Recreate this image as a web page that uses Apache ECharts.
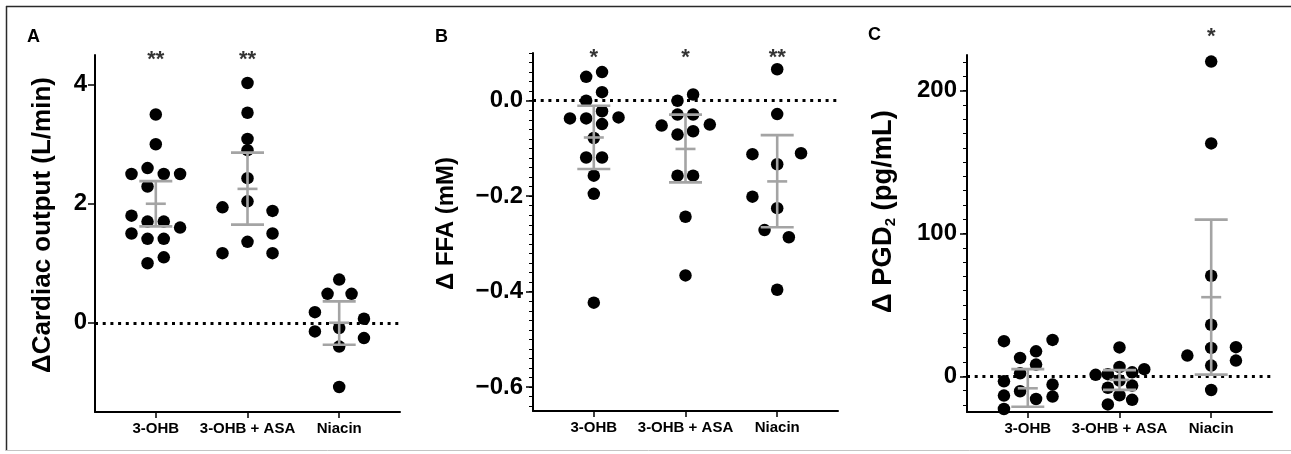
<!DOCTYPE html>
<html>
<head>
<meta charset="utf-8">
<script src="https://cdn.jsdelivr.net/npm/echarts@6/dist/echarts.min.js"></script>
<style>
html,body{margin:0;padding:0;background:#fff;}
#chart{width:1291px;height:454px;}
</style>
</head>
<body>
<div id="chart"></div>
<script>
// ---------- categories ----------
const categories = ['3-OHB', '3-OHB + ASA', 'Niacin'];

// ---------- Panel A: ΔCardiac output (L/min) ----------
const coOHB      = [3.50, 3.00, 2.60, 2.50, 2.50, 2.50, 2.29, 1.80, 1.70, 1.70, 1.60, 1.50, 1.41, 1.41, 1.10, 1.00];
const coOHBJit   = [0, 0, -0.09, -0.265, 0.087, 0.265, -0.09, -0.265, -0.09, 0.087, 0.265, -0.265, -0.09, 0.087, 0.087, -0.09];
const coASA      = [4.03, 3.53, 3.09, 2.90, 2.43, 2.04, 1.94, 1.88, 1.50, 1.36, 1.17, 1.17];
const coASAJit   = [0, 0, 0, 0, 0, 0, -0.273, 0.273, 0.273, 0, -0.273, 0.273];
const coNia      = [0.725, 0.486, 0.486, 0.178, 0.067, -0.09, -0.146, -0.258, -0.40, -1.08];
const coNiaJit   = [0, -0.127, 0.135, -0.265, 0.27, 0, -0.265, 0.27, 0, 0];
const coMean     = [2.00, 2.25, 0.00];
const coLow      = [1.62, 1.65, -0.37];
const coHigh     = [2.38, 2.86, 0.36];
const coStars    = ['**', '**', ''];
const coTicks    = [0, 2, 4];

// ---------- Panel B: Δ FFA (mM) ----------
const ffaOHB     = [0.06, 0.05, 0.018, 0.0, -0.022, -0.037, -0.037, -0.035, -0.049, -0.078, -0.119, -0.119, -0.157, -0.195, -0.423];
const ffaOHBJit  = [0.09, -0.083, 0.09, -0.083, 0.09, -0.26, -0.083, 0.27, 0.09, 0, -0.083, 0.09, 0, 0, 0];
const ffaASA     = [0.013, 0.0, -0.029, -0.029, -0.052, -0.050, -0.071, -0.064, -0.157, -0.157, -0.243, -0.366];
const ffaASAJit  = [0.083, -0.087, -0.087, 0.083, -0.26, 0.265, -0.087, 0.083, -0.087, 0.083, 0, 0];
const ffaNia     = [0.066, -0.028, -0.112, -0.110, -0.133, -0.201, -0.225, -0.271, -0.286, -0.396];
const ffaNiaJit  = [0, 0, -0.27, 0.26, 0, -0.27, 0, -0.138, 0.127, 0];
const ffaMean    = [-0.077, -0.101, -0.169];
const ffaLow     = [-0.143, -0.171, -0.265];
const ffaHigh    = [-0.0105, -0.029, -0.072];
const ffaStars   = ['*', '*', '**'];
const ffaTicks   = [-0.6, -0.4, -0.2, 0];
const ffaMinor   = [];
for (let k = -32; k <= 5; k++) ffaMinor.push(k / 50);

// ---------- Panel C: Δ PGD2 (pg/mL) ----------
const pgOHB      = [24.6, 25.5, 12.9, 17.5, 8.2, 2.1, -3.5, -5.8, -10.5, -13.5, -14.2, -15.9, -22.9];
const pgOHBJit   = [-0.26, 0.27, -0.084, 0.09, 0.09, -0.084, -0.26, 0.27, -0.084, -0.26, 0.27, 0.09, -0.26];
const pgASA      = [20.2, 6.5, 1.0, 1.5, 2.8, 5.0, -3.0, -8.0, -6.5, -13.3, -16.5, -19.7];
const pgASAJit   = [0, 0, -0.26, -0.127, 0.138, 0.27, 0, -0.127, 0.138, 0, 0.138, -0.127];
const pgNia      = [220.4, 163.1, 70.4, 36.1, 19.9, 20.4, 14.5, 11.0, 7.5, -9.6];
const pgNiaJit   = [0, 0, 0, 0, 0, 0.27, -0.26, 0.27, 0, 0];
const pgMean     = [-8.4, -2.5, 55.4];
const pgLow      = [-21.3, -9.5, 1.2];
const pgHigh     = [5.0, 4.3, 109.7];
const pgStars    = ['', '', '*'];
const pgTicks    = [0, 100, 200];
const pgMinor    = [];
for (let k = -2; k <= 22; k++) pgMinor.push(k * 10);

// ---------- axis titles ----------
const titleA = 'ΔCardiac output (L/min)';
const titleB = 'Δ FFA (mM)';
const titleCMain = ['Δ PGD', ' (pg/mL)'];
const titleCSub = '2';

// ---------- build ----------
const FONT = "'Liberation Sans', Arial, Helvetica, sans-serif";
const GRAY = '#a4a4a4';
const SUB = 15;

const mctx = document.createElement('canvas').getContext('2d');
function textW(t, size) { mctx.font = 'bold ' + size + 'px ' + FONT; return mctx.measureText(t).width; }
function fitSize(t, len) { return len / textW(t, 100) * 100; }

const sizeA = fitSize(titleA, 296);
const sizeB = fitSize(titleB, 133);
const sizeC = (203 - textW(titleCSub, SUB)) / textW(titleCMain.join(''), 100) * 100;

const panels = [
  { grid: {left: 95, top: 55, width: 305, height: 357},
    ymin: -1.5, ymax: 4.5, ticks: coTicks, minor: null,
    fmt: v => String(v), labelMargin: 8,
    groups: [[coOHB, coOHBJit], [coASA, coASAJit], [coNia, coNiaJit]],
    mean: coMean, low: coLow, high: coHigh, stars: coStars, starY: 4.42 },
  { grid: {left: 533, top: 53, width: 305, height: 358},
    ymin: -0.65, ymax: 0.1, ticks: ffaTicks, minor: ffaMinor,
    fmt: v => (Math.abs(v) < 1e-9 ? '0.0' : '\u2212' + Math.abs(v).toFixed(1)), labelMargin: 10,
    groups: [[ffaOHB, ffaOHBJit], [ffaASA, ffaASAJit], [ffaNia, ffaNiaJit]],
    mean: ffaMean, low: ffaLow, high: ffaHigh, stars: ffaStars, starY: 0.09 },
  { grid: {left: 967, top: 55, width: 305, height: 357},
    ymin: -25, ymax: 225, ticks: pgTicks, minor: pgMinor,
    fmt: v => String(v), labelMargin: 10,
    groups: [[pgOHB, pgOHBJit], [pgASA, pgASAJit], [pgNia, pgNiaJit]],
    mean: pgMean, low: pgLow, high: pgHigh, stars: pgStars, starY: 237.8 }
];

function vtitle(text, x, y, size) {
  return {type: 'text', x: x, y: y, rotation: Math.PI / 2, z: 10,
    style: {text: text, fill: '#000', font: 'bold ' + size + 'px ' + FONT,
      textAlign: 'center', textVerticalAlign: 'middle',
      rich: {
        n: {fill: '#000', fontFamily: FONT, fontWeight: 'bold', fontSize: size, lineHeight: 30},
        s: {fill: '#000', fontFamily: FONT, fontWeight: 'bold', fontSize: SUB, lineHeight: 15, verticalAlign: 'bottom'}
      }}};
}

const option = {
  animation: false,
  backgroundColor: '#fff',
  textStyle: {fontFamily: FONT},
  grid: [], xAxis: [], yAxis: [], series: [],
  graphic: [
    {type: 'line', shape: {x1: 6, y1: 6.5, x2: 1291, y2: 6.5}, style: {stroke: '#2a2a2a', lineWidth: 1.5}},
    {type: 'line', shape: {x1: 6.5, y1: 6, x2: 6.5, y2: 451}, style: {stroke: '#2a2a2a', lineWidth: 1.5}},
    {type: 'line', shape: {x1: 6, y1: 450.5, x2: 1291, y2: 450.5}, style: {stroke: '#c4c4c4', lineWidth: 1}},
    {type: 'text', x: 27, y: 37, style: {text: 'A', font: 'bold 18px ' + FONT, fill: '#000', textVerticalAlign: 'middle'}},
    {type: 'text', x: 435, y: 37, style: {text: 'B', font: 'bold 18px ' + FONT, fill: '#000', textVerticalAlign: 'middle'}},
    {type: 'text', x: 868, y: 35, style: {text: 'C', font: 'bold 18px ' + FONT, fill: '#000', textVerticalAlign: 'middle'}},
    vtitle(titleA, 43, 225, sizeA),
    vtitle(titleB, 446.5, 223.5, sizeB),
    vtitle('{n|' + titleCMain[0] + '}{s|' + titleCSub + '}{n|' + titleCMain[1] + '}', 883, 211.5, sizeC)
  ]
};

panels.forEach((p, i) => {
  option.grid.push(p.grid);
  option.xAxis.push({
    type: 'value', gridIndex: i, min: -0.663, max: 2.663,
    axisLine: {show: true, onZero: false, lineStyle: {color: '#000', width: 2}},
    axisTick: {show: true, customValues: [0, 1, 2], length: 6, lineStyle: {color: '#000', width: 1.5}},
    axisLabel: {show: true, customValues: [0, 1, 2], formatter: v => categories[Math.round(v)] || '',
      color: '#000', fontFamily: FONT, fontWeight: 'bold', fontSize: 15, margin: 9},
    splitLine: {show: false}
  });
  const yMain = option.yAxis.length;
  option.yAxis.push({
    type: 'value', gridIndex: i, min: p.ymin, max: p.ymax, position: 'left',
    axisLine: {show: true, onZero: false, lineStyle: {color: '#000', width: 2}},
    axisTick: {show: true, customValues: p.ticks, length: 7, lineStyle: {color: '#000', width: 1.5}},
    axisLabel: {show: true, customValues: p.ticks, formatter: p.fmt, color: '#000', fontFamily: FONT,
      fontWeight: 'bold', fontSize: 24, margin: p.labelMargin},
    splitLine: {show: false}
  });
  if (p.minor) {
    option.yAxis.push({
      type: 'value', gridIndex: i, min: p.ymin, max: p.ymax, position: 'left', offset: 0,
      axisLine: {show: false, onZero: false},
      axisTick: {show: true, customValues: p.minor, length: 4, lineStyle: {color: '#000', width: 1}},
      axisLabel: {show: false},
      splitLine: {show: false}
    });
  }
  // zero reference line carrier
  option.series.push({
    type: 'scatter', xAxisIndex: i, yAxisIndex: yMain, data: [], symbolSize: 0, silent: true, z: 1,
    markLine: {silent: true, symbol: ['none', 'none'], label: {show: false},
      lineStyle: {color: '#000', width: 3, type: [3, 4.7], opacity: 1},
      data: [{yAxis: 0}]}
  });
  // dots
  p.groups.forEach((g, gi) => {
    const vals = g[0], jit = g[1];
    option.series.push({
      type: 'scatter', xAxisIndex: i, yAxisIndex: yMain, z: 3, silent: true,
      symbol: 'circle', symbolSize: 12.5, itemStyle: {color: '#000', opacity: 1},
      data: vals.map((v, k) => [gi + jit[k], v])
    });
  });
  // mean ± CI bars
  option.series.push({
    type: 'custom', xAxisIndex: i, yAxisIndex: yMain, z: 5, silent: true,
    encode: {x: 0, y: [1, 2, 3]},
    data: p.mean.map((m, k) => [k, m, p.low[k], p.high[k]]),
    renderItem: (params, api) => {
      const x = api.value(0);
      const pm = api.coord([x, api.value(1)]);
      const pl = api.coord([x, api.value(2)]);
      const ph = api.coord([x, api.value(3)]);
      const st = {stroke: GRAY, lineWidth: 2.6};
      return {type: 'group', children: [
        {type: 'line', shape: {x1: pm[0], y1: ph[1], x2: pm[0], y2: pl[1]}, style: st},
        {type: 'line', shape: {x1: pm[0] - 16.5, y1: ph[1], x2: pm[0] + 16.5, y2: ph[1]}, style: st},
        {type: 'line', shape: {x1: pm[0] - 16.5, y1: pl[1], x2: pm[0] + 16.5, y2: pl[1]}, style: st},
        {type: 'line', shape: {x1: pm[0] - 10, y1: pm[1], x2: pm[0] + 10, y2: pm[1]}, style: st}
      ]};
    }
  });
  // significance stars
  option.series.push({
    type: 'scatter', xAxisIndex: i, yAxisIndex: yMain, z: 6, silent: true, clip: false,
    symbol: 'circle', symbolSize: 1, itemStyle: {color: 'rgba(0,0,0,0)'},
    label: {show: true, position: 'inside', formatter: d => d.name, color: '#000',
      fontFamily: FONT, fontWeight: 'bold', fontSize: 22},
    data: p.stars.map((s, k) => ({name: s, value: [k, p.starY]}))
  });
});

const chart = echarts.init(document.getElementById('chart'), null, {renderer: 'canvas'});
chart.setOption(option);
</script>
</body>
</html>
